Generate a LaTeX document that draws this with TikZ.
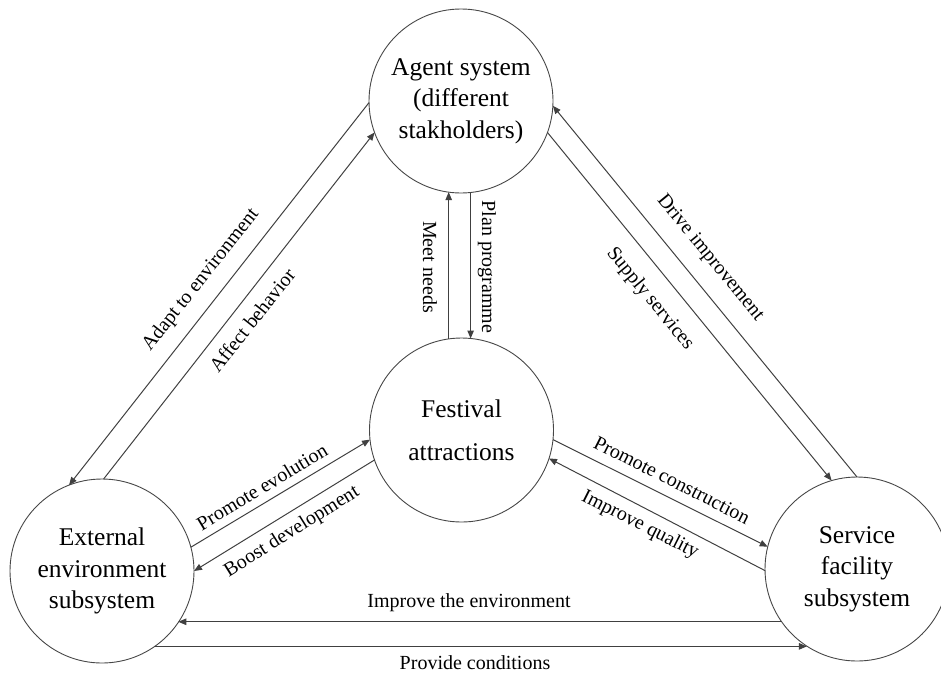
\documentclass[tikz,border=0pt]{standalone}
\usepackage{fontspec}
\setmainfont{Liberation Serif}
\usetikzlibrary{arrows.meta,calc}
\begin{document}
\begin{tikzpicture}[x=1pt,y=-1pt,
  sys/.style={circle,draw=black!72,line width=0.9pt,minimum size=184pt,inner sep=0pt,outer sep=0pt,align=center,font=\fontsize{25.5}{31.5}\selectfont},
  link/.style={draw=black!75,line width=1pt,-{Triangle[length=8pt,width=6.5pt]}},
  lab/.style={font=\fontsize{20}{24}\selectfont,inner sep=0pt}]
\useasboundingbox (0,0) rectangle (941,675);
\node[sys] (A) at (461,101) {Agent system\\(different\\stakholders)};
\node[sys,font=\fontsize{25.5}{43}\selectfont] (F) at (461.5,430) {Festival\\attractions};
\node[sys] (E) at (102,571) {External\\environment\\subsystem};
\node[sys] (S) at (857,569) {Service\\facility\\subsystem};
% agent - external
\draw[link] (A.181) -- (E.111);
\draw[link] (E.89) -- (A.200);
% service - agent
\draw[link] (S.90) -- (A.-3);
\draw[link] (A.-20) -- (S.106);
% agent - festival
\draw[link] (F.98) -- (F.98 |- A.262);
\draw[link] (A.276) -- (A.276 |- F.84);
% festival - external
\draw[link] (E.15) -- (F.186);
\draw[link] (F.199) -- (E.0);
% festival - service
\draw[link] (F.-6) -- (S.166);
\draw[link] (S.181) -- (F.-18);
% bottom
\draw[link] (S.215) -- (S.215 -| E.-34);
\draw[link] (E.-55) -- (E.-55 -| S.237);
% labels
\node[lab,rotate=51.7] (l1) at (201,280) {Adapt to environment};
\node[lab,rotate=51.7] (l2) at (252,320) {Affect behavior};
\node[lab,rotate=-50.7] (l3) at (710,258) {Drive improvement};
\node[lab,rotate=-50.7] (l4) at (650,299) {Supply services};
\node[lab,rotate=-90] (l5) at (430,267) {Meet needs};
\node[lab,rotate=-90] (l6) at (487,267) {Plan programme};
\node[lab,rotate=31] (l7) at (262,487) {Promote evolution};
\node[lab,rotate=32] (l8) at (292,532) {Boost development};
\node[lab,rotate=-26.8] (l9) at (672,480) {Promote construction};
\node[lab,rotate=-26.8] (l10) at (640,525) {Improve quality};
\node[lab] (l11) at (469,603) {Improve the environment};
\node[lab] (l12) at (475,663) {Provide conditions};
\end{tikzpicture}
\end{document}
